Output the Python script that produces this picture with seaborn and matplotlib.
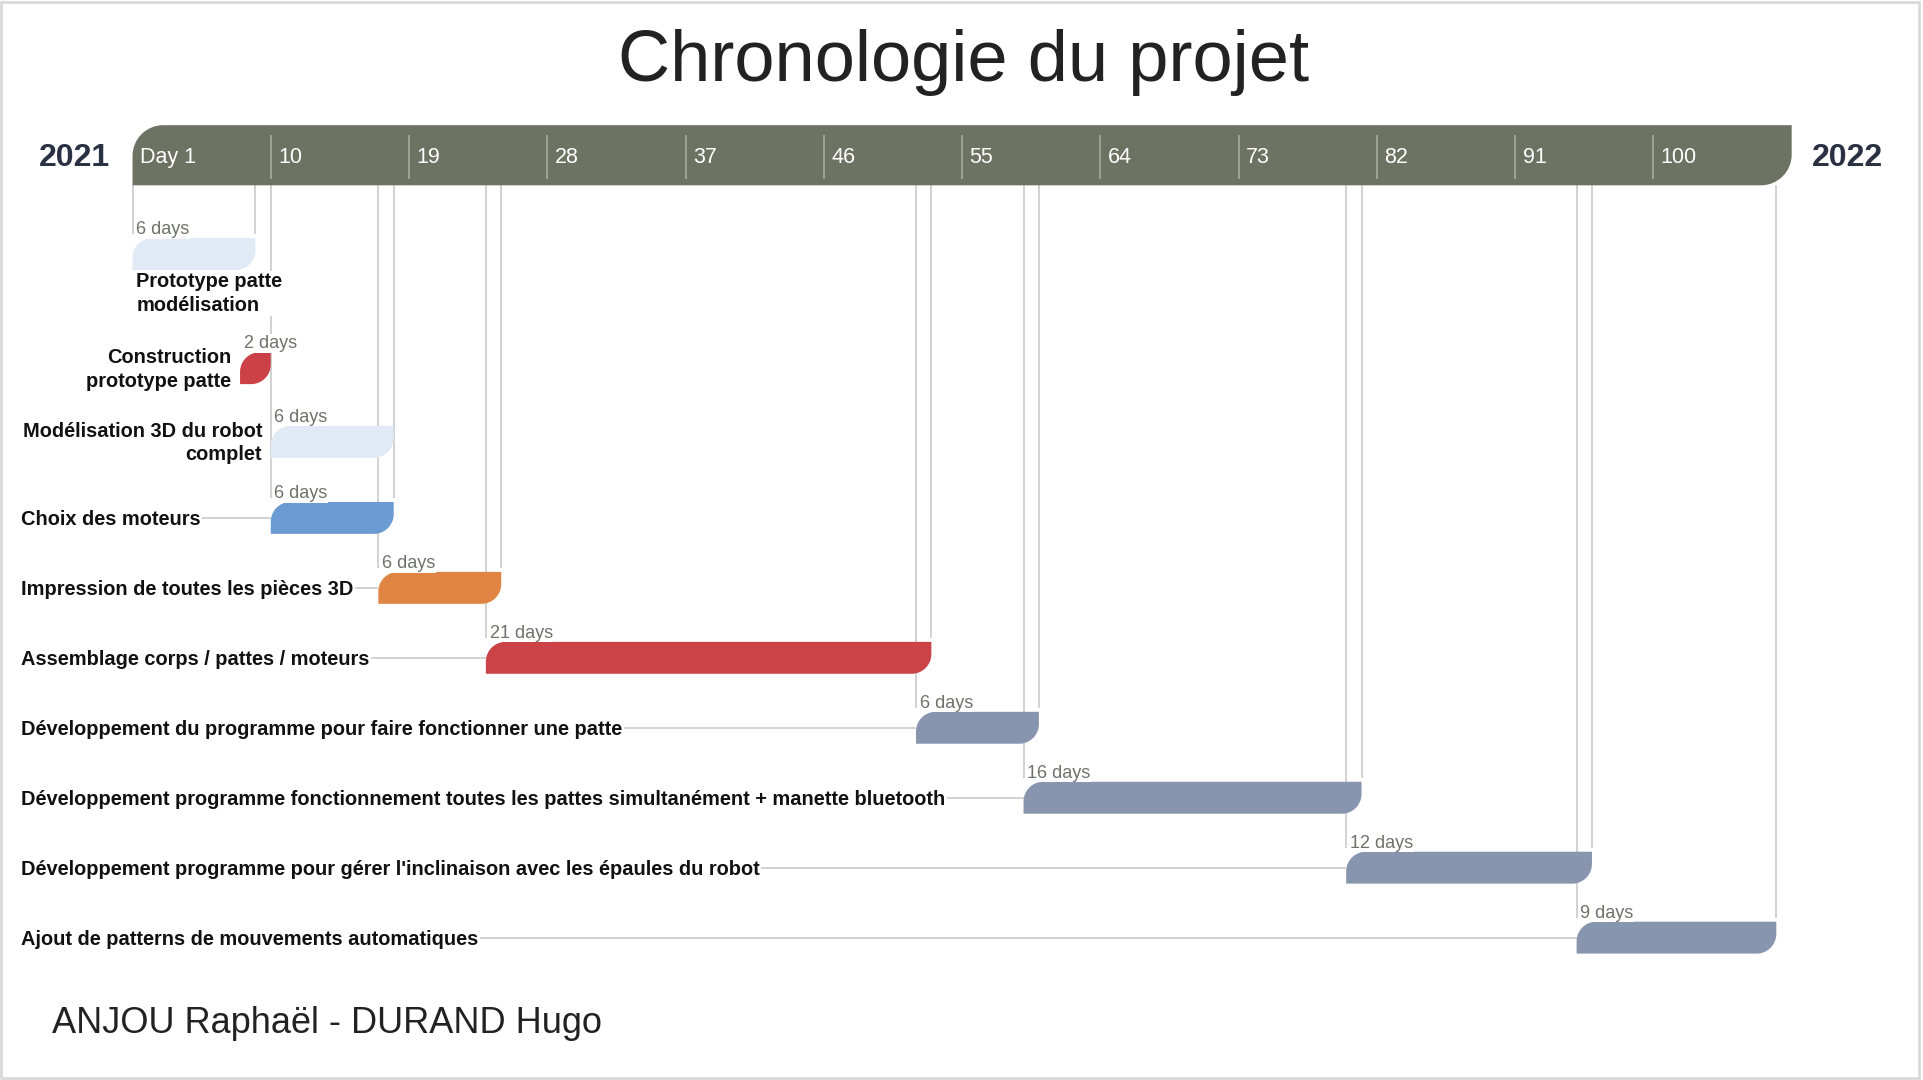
import numpy as np
import pandas as pd
import matplotlib.pyplot as plt
import seaborn as sns
from matplotlib.path import Path
from matplotlib.patches import PathPatch, Rectangle

# ---- data ----
tasks = [
    "Prototype patte\nmodélisation",
    "Construction\nprototype patte",
    "Modélisation 3D du robot\ncomplet",
    "Choix des moteurs",
    "Impression de toutes les pièces 3D",
    "Assemblage corps / pattes / moteurs",
    "Développement du programme pour faire fonctionner une patte",
    "Développement programme fonctionnement toutes les pattes simultanément + manette bluetooth",
    "Développement programme pour gérer l'inclinaison avec les épaules du robot",
    "Ajout de patterns de mouvements automatiques",
]
start_day = [1, 8, 10, 10, 17, 24, 52, 59, 80, 95]
end_day = [9, 10, 18, 18, 25, 53, 60, 81, 96, 108]
work_days = [6, 2, 6, 6, 6, 21, 6, 16, 12, 9]
task_colors = ["#e0eaf5", "#cb4147", "#e0eaf5", "#6b9bd2", "#e08443",
               "#cb4347", "#8795ae", "#8795ae", "#8795ae", "#8795ae"]
tick_days = [1, 10, 19, 28, 37, 46, 55, 64, 73, 82, 91, 100]
tick_labels = ["Day 1"] + [str(d) for d in tick_days[1:]]
timeline_end = 109
year_left, year_right = "2021", "2022"
title = "Chronologie du projet"
authors = "ANJOU Raphaël - DURAND Hugo"

df = pd.DataFrame({"task": tasks, "start": start_day, "end": end_day,
                   "days": work_days, "color": task_colors})

# ---- layout (in pixels of a 1568x880 canvas) ----
W, H = 1568, 880
X0 = 108          # pixel of day 1
PX = 12.52        # pixels per day
row_y = [207, 300, 360, 422, 479, 536, 593, 650, 707, 764]
bar_h = 26
head_top, head_bot = 102, 151

sns.set_theme(style="white")
plt.rcParams["font.family"] = ["Liberation Sans", "DejaVu Sans"]

fig = plt.figure(figsize=(19.24, 10.8), dpi=100)
ax = fig.add_axes([0, 0, 1, 1])
ax.set_xlim(1 - X0 / PX, 1 + (W - X0) / PX)
ax.set_ylim(H, 0)
ax.axis("off")


def leaf(x0, x1, ytop, ybot, r, color, z=3):
    # box with rounded top-left and bottom-right corners
    rx = min(r / PX, x1 - x0)
    ry = min(r, ybot - ytop)
    k = 1 - 0.5523
    verts = [(x0, ybot), (x1 - rx, ybot),
             (x1 - rx * k, ybot), (x1, ybot - ry * k), (x1, ybot - ry),
             (x1, ytop), (x0 + rx, ytop),
             (x0 + rx * k, ytop), (x0, ytop + ry * k), (x0, ytop + ry),
             (x0, ybot)]
    codes = [Path.MOVETO, Path.LINETO, Path.CURVE4, Path.CURVE4, Path.CURVE4,
             Path.LINETO, Path.LINETO, Path.CURVE4, Path.CURVE4, Path.CURVE4,
             Path.CLOSEPOLY]
    ax.add_patch(PathPatch(Path(verts, codes), fc=color, ec="none", zorder=z))


# header timeline
leaf(1, timeline_end, head_top, head_bot, 25, "#6c7363")
ax.vlines(tick_days[1:], head_top + 8, head_bot - 5, color="#a2a796", lw=1.3, zorder=4)
for d, lab in zip(tick_days, tick_labels):
    ax.text(d + 6 / PX, (head_top + head_bot) / 2 + 2, lab, color="white",
            fontsize=15.5, va="center", ha="left", zorder=5)

line_col = "#d2d2d2"
label_x = 1 + (17 - X0) / PX
for i, row in df.iterrows():
    yc = row_y[i]
    ytop, ybot = yc - bar_h / 2, yc + bar_h / 2
    # guide lines from the header down to the bar
    xs = [row["end"]] if i == 1 else [row["start"], row["end"]]
    ax.vlines(xs, head_bot, ytop - 3, color=line_col, lw=1.4, zorder=1)
    leaf(row["start"], row["end"], ytop, ybot, 16, row["color"])
    ax.text(row["start"] + 3 / PX, ytop - 7, f"{row['days']} days", fontsize=13,
            color="#6f7268", va="center", ha="left", zorder=5,
            bbox=dict(fc="white", ec="none", pad=0.5))
    if i == 0:
        ax.text(row["start"] + 3 / PX, ybot + 2, row["task"], fontsize=14.4, fontweight="bold",
                color="#111111", va="top", ha="left", zorder=4, linespacing=1.28,
                bbox=dict(fc="white", ec="none", pad=1))
    elif i < 3:
        ax.text(row["start"] - 7 / PX, yc + 1, row["task"], fontsize=14.4, fontweight="bold",
                color="#111111", va="center", ha="right", multialignment="right",
                linespacing=1.28, zorder=4)
    else:
        ax.hlines(yc, label_x, row["start"], color=line_col, lw=1.4, zorder=1)
        ax.text(label_x, yc + 1.5, row["task"], fontsize=14.4, fontweight="bold", color="#111111",
                va="center", ha="left", zorder=4, bbox=dict(fc="white", ec="none", pad=1))

# titles and years
ax.text(785 / W, 1 - 51 / H, title, transform=ax.transAxes, fontsize=52,
        color="#222222", ha="center", va="center")
ax.text(90 / W, 1 - 129 / H, year_left, transform=ax.transAxes, fontsize=23,
        fontweight="bold", color="#2a3142", ha="right", va="center")
ax.text(1477 / W, 1 - 129 / H, year_right, transform=ax.transAxes, fontsize=23,
        fontweight="bold", color="#2a3142", ha="left", va="center")
ax.text(42 / W, 1 - 834 / H, authors, transform=ax.transAxes, fontsize=26,
        color="#222222", ha="left", va="center")

fig.patches.append(Rectangle((0.0005, 0.002), 0.997, 0.996, transform=fig.transFigure,
                             fill=False, ec="#d9d9d9", lw=2))

fig.savefig("out.png", dpi=100, facecolor="white")
